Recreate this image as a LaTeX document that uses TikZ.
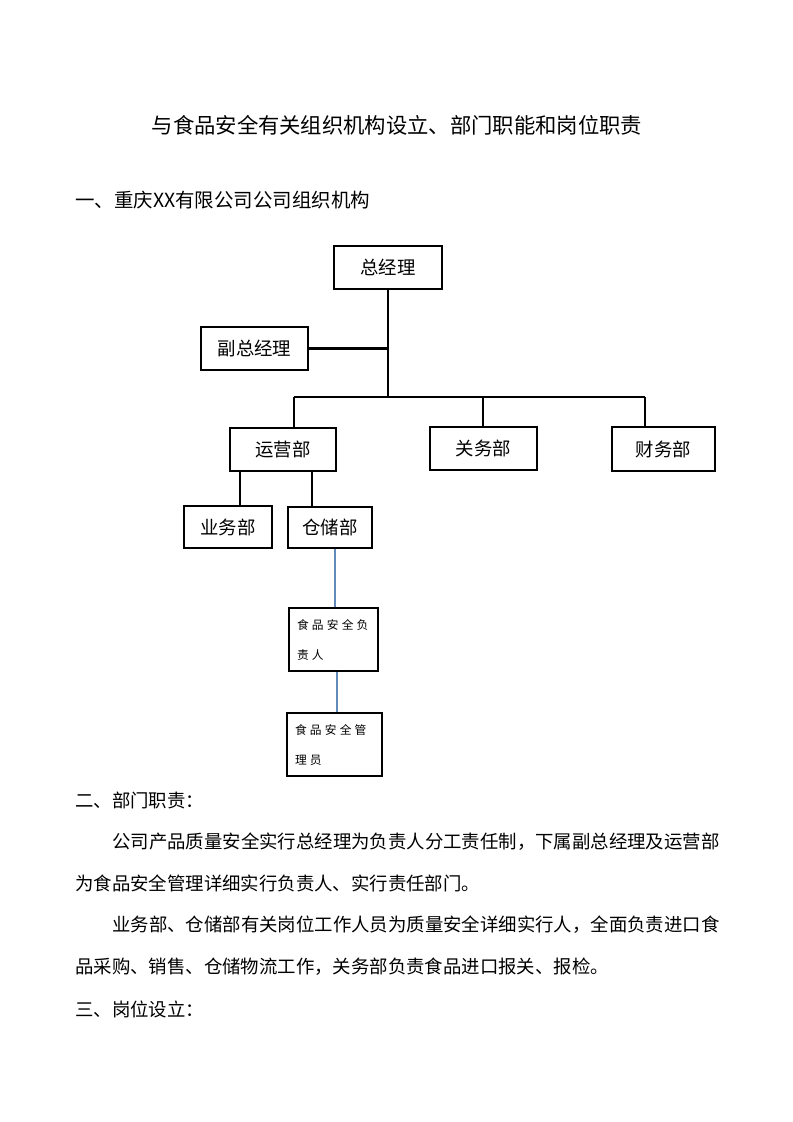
\documentclass[tikz,border=0pt]{standalone}
\usepackage{fontspec}
\setmainfont{Noto Sans CJK SC}
\definecolor{lineblue}{RGB}{96,138,186}
\newcommand{\lsp}{\kern2.4pt}
\newcommand{\lowr}[1]{\raisebox{-2.2pt}{#1}}
\begin{document}
\begin{tikzpicture}[x=0.75pt,y=-0.75pt,
  bx/.style 2 args={draw,line width=0.8pt,inner sep=0pt,minimum width=#1*0.75pt,minimum height=#2*0.75pt,font=\fontsize{13.8}{16}\selectfont},
  smallbox/.style 2 args={draw,line width=0.8pt,inner ysep=0pt,inner xsep=6pt,minimum width=#1*0.75pt,minimum height=#2*0.75pt,text width=#1*0.75pt-12pt,align=left,font=\fontsize{8.8}{22.5}\selectfont},
  tline/.style={line width=2.2pt},
  bline/.style={line width=1.5pt,draw=lineblue},
  body/.style={anchor=west,inner sep=0pt,font=\fontsize{13.8}{16}\selectfont}]
\useasboundingbox (0,0) rectangle (793,1122);
\fill[white] (0,0) rectangle (793,1122);

% texts
\node[inner sep=0pt,font=\fontsize{16}{19}\selectfont] (title) at (397,125) {与食品安全有关组织机构设立、部门职能和岗位职责};
\node[body,font=\fontsize{14.6}{16}\selectfont] (h1) at (75,200) {一、重庆XX有限公司公司组织机构};

% boxes
\node[bx={108}{43}] (zjl) at (388,267.5) {\lowr{总经理}};
\node[bx={107}{43}] (fzjl) at (254.5,348.5) {\lowr{副总经理}};
\node[bx={106}{43}] (yyb) at (283,449.5) {\lowr{运营部}};
\node[bx={107}{43}] (gwb) at (483.5,448.5) {\lowr{关务部}};
\node[bx={103}{44}] (cwb) at (663.5,449) {\lowr{财务部}};
\node[bx={88}{42}] (ywb) at (228,527) {\lowr{业务部}};
\node[bx={84}{41}] (ccb) at (330,527.5) {\lowr{仓储部}};
\node[smallbox={89}{63}] (fzr) at (333.5,639.5) {食\lsp{}品\lsp{}安\lsp{}全\lsp{}负\\责\lsp{}人};
\node[smallbox={95}{63}] (gly) at (334.5,744.5) {食\lsp{}品\lsp{}安\lsp{}全\lsp{}管\\理\lsp{}员};

% connectors
\coordinate (j1) at (388,348.5);
\coordinate (j2) at (388,397);
\coordinate (bl) at (294,397);
\coordinate (br) at (645,397);
\coordinate (gx) at (483,397);
\coordinate (a1) at (240,0);
\coordinate (a2) at (312,0);
\coordinate (b1) at (335,0);
\coordinate (b2) at (337,0);

\draw[tline] (zjl.south) -- (j2);
\draw[tline] (fzjl.east) -- (j1);
\draw[tline] (bl) -- (br);
\draw[tline] (bl) -- (bl |- yyb.north);
\draw[tline] (gx) -- (gx |- gwb.north);
\draw[tline] (br) -- (br |- cwb.north);
\draw[tline] (yyb.south -| a1) -- (ywb.north -| a1);
\draw[tline] (yyb.south -| a2) -- (ccb.north -| a2);
\draw[bline] (ccb.south -| b1) -- (fzr.north -| b1);
\draw[bline] (fzr.south -| b2) -- (gly.north -| b2);

% body text
\node[body] (s2) at (75,800) {二、部门职责：};
\node[body] (p1) at (112,842) {公司产品质量安全实行总经理为负责人分工责任制，下属副总经理及运营部};
\node[body] (p2) at (75,883) {为食品安全管理详细实行负责人、实行责任部门。};
\node[body] (p3) at (112,925) {业务部、仓储部有关岗位工作人员为质量安全详细实行人，全面负责进口食};
\node[body] (p4) at (75,967) {品采购、销售、仓储物流工作，关务部负责食品进口报关、报检。};
\node[body] (s3) at (75,1009) {三、岗位设立：};
\end{tikzpicture}
\end{document}
